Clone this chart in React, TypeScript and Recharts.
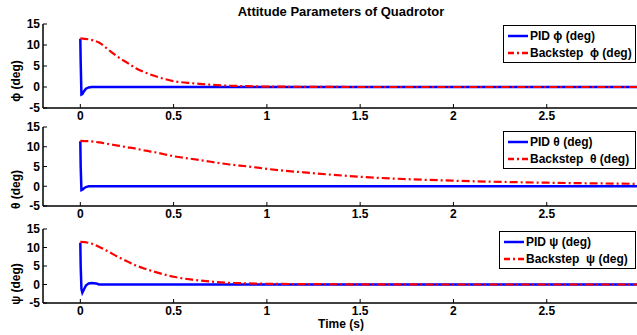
import React from "react";
import { LineChart, Line, XAxis, YAxis, Legend } from "recharts";

// time axis ticks and angle ticks
const timeTicks = [0, 0.5, 1, 1.5, 2, 2.5];
const angleTicks = [-5, 0, 5, 10, 15];

// PID response (fast drop at t=0)
const pidTime = [0, 0.002, 0.006, 0.011, 0.02, 0.03, 0.045, 0.06, 0.085, 0.1, 3];
const pidPhi = [11.5, 6, -1.8, -1.7, -1.0, -0.4, -0.1, 0, 0, 0, 0];
const pidTheta = [11.4, 5, -1.0, -0.9, -0.5, -0.2, 0, 0, 0, 0, 0];
const pidPsi = [11.3, 5, -1.2, -2.2, -1.3, -0.3, 0.3, 0.4, 0.3, 0, 0];

// Backstepping response (slow decay)
const bsTime = [0, 0.05, 0.1, 0.15, 0.2, 0.25, 0.3, 0.35, 0.4, 0.5, 0.6, 0.7, 0.8, 0.9, 1.0, 1.2, 1.5, 2, 2.5, 3];
const bsPhi = [11.6, 11.3, 10.6, 8.9, 7.2, 5.8, 4.4, 3.4, 2.6, 1.4, 0.9, 0.55, 0.3, 0.2, 0.1, 0.05, 0, 0, 0, 0];
const bsTheta = [11.5, 11.4, 11.1, 10.7, 10.3, 9.9, 9.5, 9.0, 8.6, 7.6, 6.9, 6.2, 5.5, 5.0, 4.4, 3.5, 2.4, 1.4, 0.9, 0.6];
const bsPsi = [11.5, 11.2, 10.2, 8.9, 7.5, 6.3, 5.1, 4.2, 3.4, 2.1, 1.3, 0.8, 0.45, 0.3, 0.2, 0.1, 0.05, 0, 0, 0];

const symbols = ["ϕ", "θ", "ψ"];

const font = "'Liberation Sans', Arial, sans-serif";
const tickStyle = { fill: "#000", fontSize: 12, fontWeight: 700, fontFamily: font };

const layouts = [
  { plotTop: 24, plotBottom: 108, legendTop: 25, legendLeft: 503, labelShift: 15 },
  { plotTop: 127, plotBottom: 206, legendTop: 131, legendLeft: 503, labelShift: 23 },
  { plotTop: 229, plotBottom: 303, legendTop: 231, legendLeft: 499, labelShift: 18 },
];

const toRows = (t: number[], v: number[]) => t.map((x, i) => ({ t: x, v: v[i] }));

function LegendBox({ sym, width }: { sym: string; width: number }) {
  const row = (dash: string | undefined, color: string, text: string) => (
    <div style={{ display: "flex", alignItems: "center", height: 17 }}>
      <svg width={21} height={6} style={{ marginRight: 2 }}>
        <line x1={1} y1={3} x2={21} y2={3} stroke={color} strokeWidth={2.5} strokeDasharray={dash} />
      </svg>
      <span style={{ whiteSpace: "pre" }}>{text}</span>
    </div>
  );
  return (
    <div
      style={{
        border: "1px solid #000",
        background: "#fff",
        width,
        height: 38,
        padding: "1px 0 0 3px",
        boxSizing: "border-box",
        fontFamily: font,
        fontWeight: 700,
        fontSize: 12,
        color: "#000",
      }}
    >
      {row(undefined, "#0000ff", `PID ${sym} (deg)`)}
      {row("6 3 2 3", "#ff0000", `Backstep  ${sym} (deg)`)}
    </div>
  );
}

function Panel({ idx, pid, bs }: { idx: number; pid: number[]; bs: number[] }) {
  const l = layouts[idx];
  const sym = symbols[idx];
  const top = l.plotTop - 10;
  const height = l.plotBottom - l.plotTop + 10 + 20;
  const legendWidth = 636 - l.legendLeft;
  return (
    <div style={{ position: "absolute", left: 0, top }}>
      <LineChart width={645} height={height} margin={{ top: 10, right: 5, bottom: 0, left: 0 }}>
        <XAxis
          dataKey="t"
          type="number"
          domain={[-0.2, 3]}
          ticks={timeTicks}
          interval={0}
          allowDataOverflow
          height={20}
          tickSize={-4}
          tickMargin={7}
          tick={tickStyle}
          axisLine={{ stroke: "#000", strokeWidth: 1.5 }}
          tickLine={{ stroke: "#000" }}
        />
        <XAxis
          xAxisId="top"
          orientation="top"
          type="number"
          domain={[-0.2, 3]}
          ticks={timeTicks}
          interval={0}
          allowDataOverflow
          height={0}
          tickSize={-4}
          tick={false}
          axisLine={{ stroke: "#000", strokeWidth: 1.5 }}
          tickLine={{ stroke: "#000" }}
        />
        <YAxis
          type="number"
          domain={[-5, 15]}
          ticks={angleTicks}
          interval={0}
          allowDataOverflow
          width={43}
          tickSize={-4}
          tickMargin={7}
          tick={tickStyle}
          axisLine={{ stroke: "#000", strokeWidth: 1.5 }}
          tickLine={{ stroke: "#000" }}
          label={(p: any) => {
            const vb = p.viewBox || { x: 0, y: 0, height: 0 };
            const cy = vb.y + vb.height / 2 + l.labelShift;
            return (
              <text
                transform={`translate(16, ${cy}) rotate(-90)`}
                textAnchor="middle"
                dominantBaseline="central"
                style={{ fontFamily: font, fontWeight: 700, fontSize: 12, fill: "#000" }}
              >
                {`${sym} (deg)`}
              </text>
            );
          }}
        />
        <YAxis
          yAxisId="r"
          orientation="right"
          type="number"
          domain={[-5, 15]}
          ticks={angleTicks}
          interval={0}
          width={0}
          tickSize={-4}
          tick={false}
          axisLine={{ stroke: "#000", strokeWidth: 1.5 }}
          tickLine={{ stroke: "#000" }}
        />
        <Line
          data={toRows(pidTime, pid)}
          dataKey="v"
          type="linear"
          stroke="#0000ff"
          strokeWidth={2.5}
          dot={false}
          isAnimationActive={false}
        />
        <Line
          data={toRows(bsTime, bs)}
          dataKey="v"
          type="monotone"
          stroke="#ff0000"
          strokeWidth={2.2}
          strokeDasharray="8 3 2 3"
          dot={false}
          isAnimationActive={false}
        />
        <Legend
          layout="vertical"
          align="center"
          verticalAlign="middle"
          wrapperStyle={{ position: "absolute", left: l.legendLeft, top: l.legendTop - top, width: legendWidth }}
          content={() => <LegendBox sym={sym} width={legendWidth} />}
        />
      </LineChart>
    </div>
  );
}

export default function App() {
  return (
    <div
      style={{
        position: "absolute",
        left: 0,
        top: 0,
        width: 637,
        height: 335,
        overflow: "hidden",
        background: "#fff",
        fontFamily: font,
      }}
    >
      <Panel idx={0} pid={pidPhi} bs={bsPhi} />
      <Panel idx={1} pid={pidTheta} bs={bsTheta} />
      <Panel idx={2} pid={pidPsi} bs={bsPsi} />
      <div
        style={{
          position: "absolute",
          left: 201,
          width: 280,
          top: 4,
          textAlign: "center",
          fontWeight: 700,
          fontSize: 13,
        }}
      >
        Attitude Parameters of Quadrotor
      </div>
      <div
        style={{
          position: "absolute",
          left: 291,
          width: 100,
          top: 317,
          textAlign: "center",
          fontWeight: 700,
          fontSize: 12,
        }}
      >
        Time (s)
      </div>
    </div>
  );
}
